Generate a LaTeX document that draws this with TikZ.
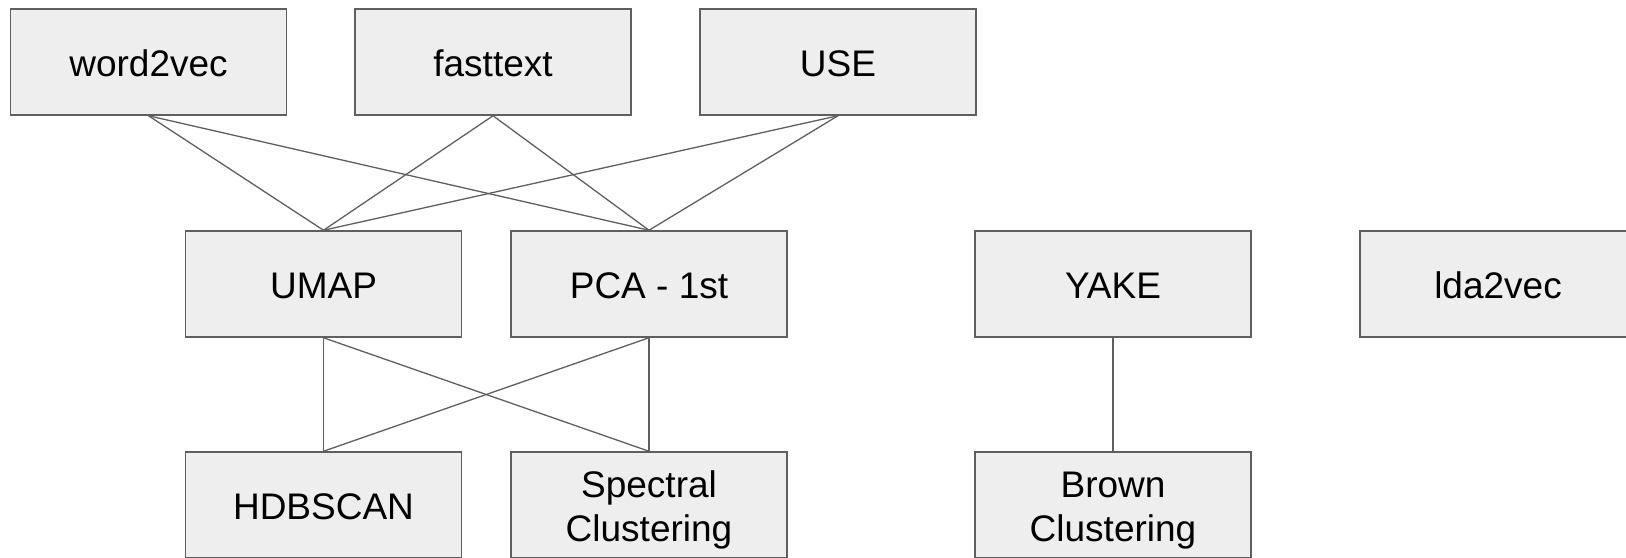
\documentclass[tikz,border=0pt]{standalone}
\usepackage{fontspec}
\setmainfont{Liberation Sans}
\definecolor{boxfill}{HTML}{EEEEEE}
\definecolor{boxline}{HTML}{5F5F5F}
\begin{document}
\begin{tikzpicture}[x=0.5pt, y=-0.5pt, box style/.style={rectangle, draw=boxline, fill=boxfill, line width=0.75pt, minimum width=138pt, minimum height=53pt, inner sep=0pt, align=center, text height=14.5pt, font=\fontsize{18.5}{22}\selectfont}, two lines/.style={text height=40pt}, link/.style={draw=boxline, line width=0.65pt}]
	\useasboundingbox (0, 0) rectangle (1626, 557);
	\clip (0, 0) rectangle (1626, 557);
	\node[box style] (E1) at (148.5, 62) {word2vec};
	\node[box style] (E2) at (493, 62) {fasttext};
	\node[box style] (E3) at (838, 62) {USE};
	\node[box style] (R1) at (323.5, 284) {UMAP};
	\node[box style] (R2) at (649, 284) {PCA - 1st};
	\node[box style] (K1) at (1113, 284) {YAKE};
	\node[box style] (L1) at (1498, 284) {lda2vec};
	\node[box style] (C1) at (323.5, 505) {HDBSCAN};
	\node[box style, two lines] (C2) at (649, 505) {Spectral\\Clustering};
	\node[box style, two lines] (C3) at (1113, 505) {Brown\\Clustering};
	\foreach \e in {E1, E2, E3} {
		\draw[link] (\e.south) -- (R1.north);
		\draw[link] (\e.south) -- (R2.north);
	}
	\foreach \r in {R1, R2} {
		\draw[link] (\r.south) -- (C1.north);
		\draw[link] (\r.south) -- (C2.north);
	}
	\draw[link] (K1) -- (C3);
\end{tikzpicture}
\end{document}
